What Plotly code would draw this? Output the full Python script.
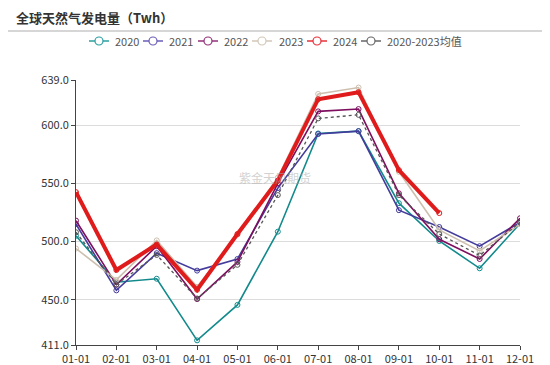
import plotly.graph_objects as go

months = ["01-01", "02-01", "03-01", "04-01", "05-01", "06-01",
          "07-01", "08-01", "09-01", "10-01", "11-01", "12-01"]

y2020 = [505, 465, 468, 415, 445.5, 508.5, 593, 595, 533, 500.5, 477, 515.5]
y2021 = [515, 458, 490, 475, 485, 546, 592.5, 595, 527, 512.5, 496, 516.5]
y2022 = [518, 463, 496, 450.5, 482.5, 550, 612, 614, 541.5, 502, 485, 520]
y2023 = [494, 467, 501, 461, 506, 555, 627, 632.5, 560, 510, 492, 515]
y2024 = [542.5, 475.5, 497.5, 458.5, 506.5, 552.5, 622.5, 628.5, 561.5, 524.5]
y_avg = [508, 463, 488.5, 451, 480, 540, 606, 609, 540, 506.5, 488, 516.5]

ytickvals = [411, 450, 500, 550, 600, 639]
yticktext = ["411.0", "450.0", "500.0", "550.0", "600.0", "639.0"]

series = [
    ("2020", y2020, "#128a8c", 1.6, "solid"),
    ("2021", y2021, "#443c9c", 1.6, "solid"),
    ("2022", y2022, "#7d0f5e", 1.6, "solid"),
    ("2023", y2023, "#cdbfae", 1.6, "solid"),
    ("2024", y2024, "#e01b1b", 4, "solid"),
    ("2020-2023均值", y_avg, "#555555", 1.3, "dot"),
]
legend_colors = {"2020": "#2a9fa0", "2021": "#6a5db8", "2022": "#93307a",
                 "2023": "#d3c7b8", "2024": "#e8303a", "2020-2023均值": "#666666"}

# page has an 8px body margin; figure sized to fit the window
W, H = 542, 357
L, T, PW, PH = 68, 72, 444, 265
R, B = W - L - PW, H - T - PH

def px_x(x):
    return (x - 8 - L) / PW

def px_y(y):
    return 1 - (y - 8 - T) / PH

fig = go.Figure()
traces = {}
for name, ys, color, w, dash in series:
    traces[name] = go.Scatter(
        x=months[:len(ys)], y=ys, name=name, mode="lines+markers",
        line=dict(color=color, width=w, dash=dash),
        marker=dict(symbol="circle-open", size=5, color=color,
                    line=dict(width=1, color=color)),
        showlegend=False,
    )
for name in ["2020", "2021", "2022", "2023", "2020-2023均值", "2024"]:
    fig.add_trace(traces[name])

shapes = [dict(type="line", xref="paper", yref="paper",
               x0=px_x(8), x1=px_x(542), y0=px_y(31), y1=px_y(31),
               line=dict(color="#d6d6d6", width=2))]
annotations = [
    dict(text="<b>全球天然气发电量（Twh）</b>", xref="paper", yref="paper",
         x=px_x(14), y=px_y(17), xanchor="left", yanchor="middle", showarrow=False,
         font=dict(size=13, color="#333")),
    dict(text="紫金天风期货", xref="paper", yref="paper", x=px_x(275), y=px_y(178),
         showarrow=False, font=dict(size=12, color="rgba(170,170,170,0.55)")),
]

# custom legend (symbol start x, text start x) in reference pixels
legend_pos = [("2020", 89, 113), ("2021", 143, 167), ("2022", 198, 222),
              ("2023", 252, 277), ("2024", 307, 331), ("2020-2023均值", 361, 385)]
ly = 41
for name, sx, tx in legend_pos:
    c = legend_colors[name]
    shapes.append(dict(type="line", xref="paper", yref="paper",
                       x0=px_x(sx), x1=px_x(sx + 20), y0=px_y(ly), y1=px_y(ly),
                       line=dict(color=c, width=1.5)))
    cx = sx + 10
    shapes.append(dict(type="circle", xref="paper", yref="paper",
                       x0=px_x(cx - 4), x1=px_x(cx + 4), y0=px_y(ly + 4), y1=px_y(ly - 4),
                       fillcolor="white", line=dict(color=c, width=1.2)))
    annotations.append(dict(text=name, xref="paper", yref="paper",
                            x=px_x(tx), y=px_y(ly), xanchor="left", yanchor="middle",
                            showarrow=False, font=dict(size=11, color="#555")))

fig.update_layout(
    width=W, height=H,
    margin=dict(l=L, r=R, t=T, b=B, autoexpand=False),
    paper_bgcolor="white", plot_bgcolor="white",
    font=dict(family="Noto Sans CJK SC, Noto Sans, sans-serif", size=11, color="#333"),
    showlegend=False,
    xaxis=dict(type="category", categoryorder="array", categoryarray=months,
               range=[0, 11], showgrid=False, showline=True, linecolor="#444",
               linewidth=1, ticks="outside", ticklen=4, tickcolor="#444",
               tickfont=dict(size=11, color="#333"), zeroline=False),
    yaxis=dict(range=[411, 639], tickvals=ytickvals, ticktext=yticktext,
               showgrid=True, gridcolor="#dcdcdc", gridwidth=1,
               showline=True, linecolor="#444", linewidth=1,
               ticks="outside", ticklen=4, tickcolor="#444",
               tickfont=dict(size=11, color="#333"), zeroline=False),
    shapes=shapes,
    annotations=annotations,
)

fig.write_html("out.html")
